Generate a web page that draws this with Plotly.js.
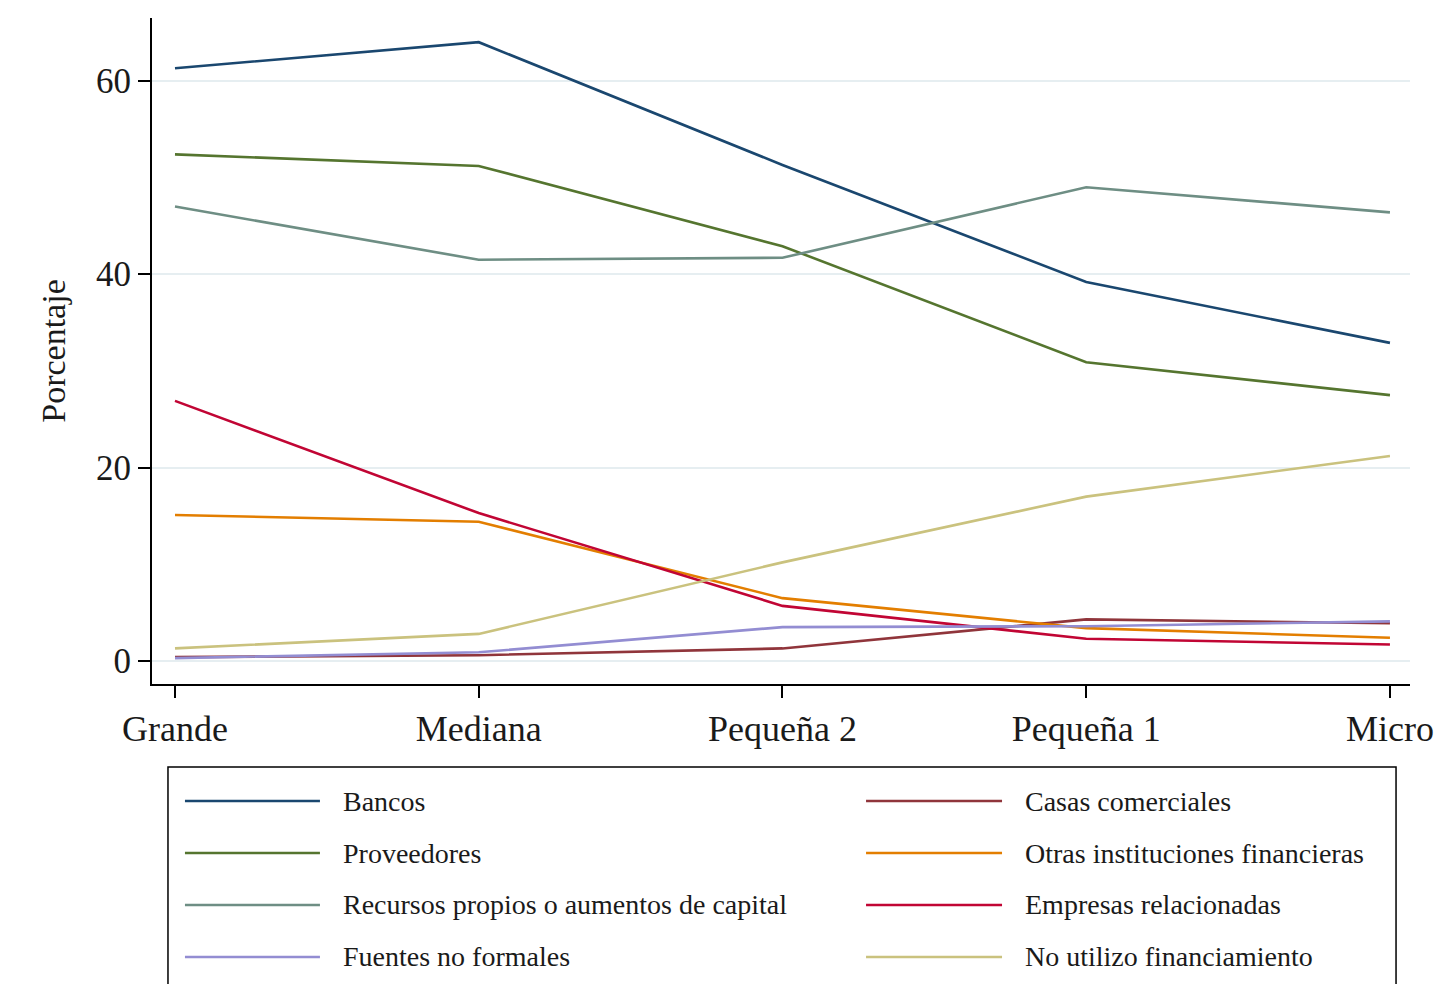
<!DOCTYPE html>
<html>
<head>
<meta charset="utf-8">
<script src="https://cdn.plot.ly/plotly-3.0.1.min.js"></script>
<style>html,body{margin:0;padding:0;background:#fff;}#chart{width:1440px;height:984px;}</style>
</head>
<body>
<div id="chart"></div>
<script>
const categories = ["Grande", "Mediana", "Pequeña 2", "Pequeña 1", "Micro"];
const seriesNames = ["Bancos", "Casas comerciales", "Proveedores", "Otras instituciones financieras",
  "Recursos propios o aumentos de capital", "Empresas relacionadas", "Fuentes no formales", "No utilizo financiamiento"];
const bancos = [61.3, 64.0, 51.3, 39.2, 32.9];
const casasComerciales = [0.4, 0.6, 1.3, 4.3, 3.9];
const proveedores = [52.4, 51.2, 42.9, 30.9, 27.5];
const otrasInstituciones = [15.1, 14.4, 6.5, 3.4, 2.4];
const recursosPropios = [47.0, 41.5, 41.7, 49.0, 46.4];
const empresasRelacionadas = [26.9, 15.3, 5.7, 2.3, 1.7];
const fuentesNoFormales = [0.3, 0.9, 3.5, 3.6, 4.1];
const noUtilizo = [1.3, 2.8, 10.2, 17.0, 21.2];
const yTicks = [0, 20, 40, 60];

const seriesValues = [bancos, casasComerciales, proveedores, otrasInstituciones,
  recursosPropios, empresasRelacionadas, fuentesNoFormales, noUtilizo];
const colors = ["#1a476f", "#90353b", "#55752f", "#e37e00", "#6e8e84", "#c10534", "#938dd2", "#cac27e"];
const FONT = "Liberation Serif, 'Times New Roman', serif";

const traces = seriesValues.map((vals, i) => ({
  type: "scatter", mode: "lines", name: seriesNames[i],
  x: categories, y: vals,
  line: {color: colors[i], width: 2.6},
  showlegend: false
}));

// Manual legend (two columns, row-major order as in Stata)
const shapes = [{
  type: "rect", xref: "paper", yref: "paper",
  x0: 0.0127, x1: 0.9889, y0: -0.1246, y1: -0.48,
  line: {color: "#000", width: 1.5}, fillcolor: "rgba(0,0,0,0)"
}];
const annotations = [];
const rowY = [-0.1757, -0.2538, -0.3318, -0.4099];
const colLine = [[0.0262, 0.1335], [0.5676, 0.6757]];
const colText = [0.1502, 0.6925];
seriesNames.forEach((nm, i) => {
  const r = Math.floor(i / 2), c = i % 2;
  shapes.push({type: "line", xref: "paper", yref: "paper",
    x0: colLine[c][0], x1: colLine[c][1], y0: rowY[r], y1: rowY[r],
    line: {color: colors[i], width: 2.6}});
  annotations.push({xref: "paper", yref: "paper", x: colText[c], y: rowY[r],
    xanchor: "left", yanchor: "middle", showarrow: false, text: nm,
    font: {family: FONT, size: 28, color: "#1a1a1a"}});
});

const layout = {
  width: 1440, height: 984,
  margin: {l: 152, r: 30, t: 18, b: 300},
  paper_bgcolor: "#fff", plot_bgcolor: "#fff",
  font: {family: FONT, color: "#1a1a1a"},
  xaxis: {
    type: "category", range: [-0.0757, 4.066],
    showline: true, linecolor: "#000", linewidth: 2,
    ticks: "outside", ticklen: 12, tickwidth: 2, tickcolor: "#000",
    showgrid: false, zeroline: false,
    tickfont: {family: FONT, size: 36, color: "#1a1a1a"}
  },
  yaxis: {
    range: [-2.38, 66.5],
    tickvals: yTicks, ticktext: yTicks.map(String),
    showline: true, linecolor: "#000", linewidth: 2,
    ticks: "outside", ticklen: 12, tickwidth: 2, tickcolor: "#000",
    showgrid: true, gridcolor: "#e6eef1", gridwidth: 2, zeroline: false,
    tickfont: {family: FONT, size: 35, color: "#1a1a1a"},
    title: {text: "Porcentaje", font: {family: FONT, size: 34, color: "#1a1a1a"}, standoff: 20}
  },
  shapes: shapes,
  annotations: annotations,
  showlegend: false
};

Plotly.newPlot("chart", traces, layout, {displayModeBar: false, staticPlot: true});
</script>
</body>
</html>
